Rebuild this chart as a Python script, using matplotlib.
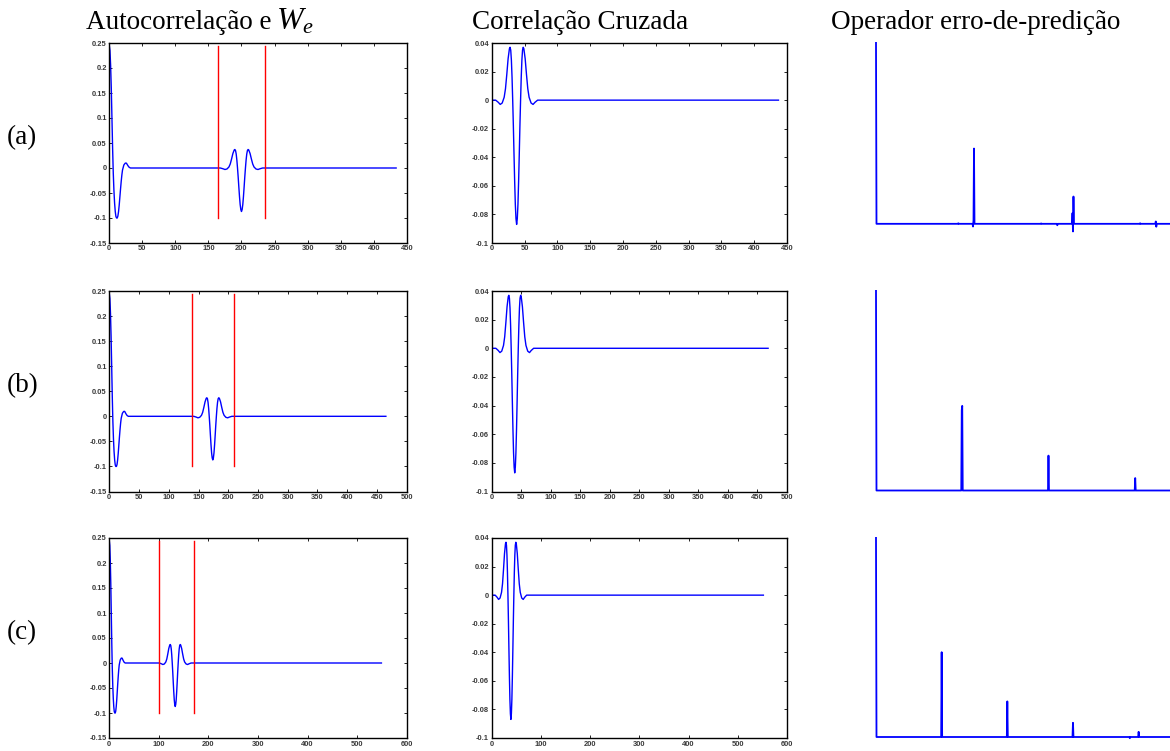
import numpy as np
import matplotlib
matplotlib.use('Agg')
import matplotlib.pyplot as plt

plt.rcParams['mathtext.fontset'] = 'custom'
plt.rcParams['mathtext.rm'] = 'Liberation Serif'
plt.rcParams['mathtext.it'] = 'Liberation Serif:italic'

# ---------- dados ----------
row_labels = ['(a)', '(b)', '(c)']
titles = ['Autocorrelação e ', 'Correlação Cruzada', 'Operador erro-de-predição']

# inicio da autocorrelacao (lag 0..34), igual nas tres linhas
ac_head_lag = [0, 1, 2, 3, 4, 5, 6, 7, 8, 9, 10, 11, 12, 13, 14, 15, 16, 17, 18,
               19, 20, 22, 24, 25, 26, 28, 30, 32, 34]
ac_head_val = [0.245, 0.235, 0.205, 0.160, 0.100, 0.040, -0.010, -0.045, -0.070,
               -0.087, -0.097, -0.100, -0.100, -0.096, -0.087, -0.074, -0.058,
               -0.042, -0.027, -0.014, -0.004, 0.006, 0.0095, 0.010, 0.0095,
               0.005, 0.0015, 0.0, 0.0]

# forma da ondicula (deslocamento em relacao ao vale central, amplitude)
wave_off = [-32, -28, -25, -22, -19, -17, -15, -13, -11, -10, -9, -8, -7, -6, -5,
            -4, -3, -2, -1, 0, 1, 2, 3, 4, 5, 6, 7, 8, 9, 10, 11, 13, 15, 17, 19,
            22, 25, 28, 32]
wave_amp = [0.0, -0.0015, -0.003, -0.002, 0.002, 0.008, 0.018, 0.029, 0.036,
            0.037, 0.035, 0.028, 0.016, 0.0, -0.018, -0.038, -0.057, -0.073,
            -0.083, -0.087, -0.083, -0.073, -0.057, -0.038, -0.018, 0.0, 0.016,
            0.028, 0.035, 0.037, 0.036, 0.029, 0.018, 0.008, 0.002, -0.002,
            -0.003, -0.0015, 0.0]

# autocorrelacao: centro do multiplo, fim da curva, janela W_e (linhas vermelhas)
ac_center = [200, 174, 133]
ac_end = [434, 465, 549]
we_start = [165, 139, 101]
we_stop = [236, 209, 171]
we_low = -0.1
we_high = 0.245

# correlacao cruzada: centro e fim
cc_center = [38, 39, 39]
cc_end = [437, 468, 552]

# eixo x por linha
x_max = [450, 500, 600]
x_ticks = [[0, 50, 100, 150, 200, 250, 300, 350, 400, 450],
           [0, 50, 100, 150, 200, 250, 300, 350, 400, 450, 500],
           [0, 100, 200, 300, 400, 500, 600]]
ac_yticks = [-0.15, -0.1, -0.05, 0, 0.05, 0.1, 0.15, 0.2, 0.25]
ac_ylabels = ['-0.15', '-0.1', '-0.05', '0', '0.05', '0.1', '0.15', '0.2', '0.25']
cc_yticks = [-0.1, -0.08, -0.06, -0.04, -0.02, 0, 0.02, 0.04]
cc_ylabels = ['-0.1', '-0.08', '-0.06', '-0.04', '-0.02', '0', '0.02', '0.04']

# operador erro-de-predicao: lags e valores nao nulos
op_lag = [[0, 168, 198, 199, 200, 337, 370, 401, 402, 403, 539, 571, 572],
          [0, 175, 176, 352, 529],
          [0, 134, 268, 402, 518, 536]]
op_val = [[1.0, 0.003, -0.015, 0.02, 0.414, 0.002, -0.008, 0.059, -0.042, 0.150,
           0.003, 0.013, -0.016],
          [1.0, 0.40, 0.422, 0.174, 0.062],
          [1.0, 0.424, 0.178, 0.071, -0.006, 0.026]]
op_len = 600
op_ymin = [-0.1, 0.0, 0.0]

BLUE = '#0000ff'
RED = '#ff0000'

W, H = 1170, 751
fig = plt.figure(figsize=(W / 100, H / 100), dpi=100)


def px_axes(x0, y0, x1, y1):
    return fig.add_axes([x0 / W, 1 - y1 / H, (x1 - x0) / W, (y1 - y0) / H])


def style_axes(ax, xt, yt, ylab):
    ax.set_xticks(xt)
    ax.set_xticklabels([str(v) for v in xt])
    ax.set_yticks(yt)
    ax.set_yticklabels(ylab)
    ax.tick_params(direction='in', length=2.4, width=0.6, top=True, right=True,
                   labelsize=5.4, labelcolor='#3a3a3a', pad=1.8)
    for lab in ax.get_xticklabels() + ax.get_yticklabels():
        lab.set_family('Liberation Sans')
        lab.set_weight('bold')
    for s in ax.spines.values():
        s.set_linewidth(1.0)


def curve(head_lag, head_val, center, end):
    lags = list(head_lag)
    vals = list(head_val)
    lags += [center + o for o in wave_off]
    vals += wave_amp
    lags.append(end)
    vals.append(0.0)
    return lags, vals


rows_y = [(43, 243), (291, 491.5), (538, 738)]

for i in range(3):
    y0, y1 = rows_y[i]

    # ---------- autocorrelacao ----------
    ax = px_axes(109.3, y0, 406.7, y1)
    lag, val = curve(ac_head_lag, ac_head_val, ac_center[i], ac_end[i])
    ax.plot(lag, val, color=BLUE, lw=1.0)
    ax.plot([we_start[i], we_start[i]], [we_low, we_high], color=RED, lw=1.0)
    ax.plot([we_stop[i], we_stop[i]], [we_low, we_high], color=RED, lw=1.0)
    ax.set_xlim(0, x_max[i])
    ax.set_ylim(-0.15, 0.25)
    style_axes(ax, x_ticks[i], ac_yticks, ac_ylabels)

    # ---------- correlacao cruzada ----------
    ax = px_axes(491.7, y0, 787, y1)
    lag, val = curve([0, 5], [0.0, 0.0], cc_center[i], cc_end[i])
    ax.plot(lag, val, color=BLUE, lw=1.0)
    ax.set_xlim(0, x_max[i])
    ax.set_ylim(-0.1, 0.04)
    style_axes(ax, x_ticks[i], cc_yticks, cc_ylabels)

    # ---------- operador ----------
    ax = px_axes(876, y0 - 1, 1170, y1 - 1)
    px, py = [], []
    for l, v in zip(op_lag[i], op_val[i]):
        if px and px[-1] >= l:
            px.pop(); py.pop()
        elif l > 0:
            px.append(l - 1); py.append(0.0)
        px.append(l); py.append(v)
        px.append(l + 1); py.append(0.0)
    px.append(op_len); py.append(0.0)
    ax.plot(px, py, color=BLUE, lw=1.3, clip_on=False, solid_capstyle='butt')
    ax.set_xlim(0, op_len)
    ax.set_ylim(op_ymin[i], 1.0)
    ax.axis('off')

    fig.text(7 / W, 1 - (rows_y[i][0] + 95) / H, row_labels[i],
             family='Liberation Serif', fontsize=19.5, va='center', ha='left')

# ---------- titulos ----------
fig.text(86 / W, 1 - 29 / H, titles[0], family='Liberation Serif', fontsize=19.5,
         va='baseline', ha='left')
fig.text(276 / W, 1 - 29 / H, r'$W_e$', fontsize=23, va='baseline', ha='left')
fig.text(688 / W, 1 - 29 / H, titles[1], family='Liberation Serif', fontsize=19.5,
         va='baseline', ha='right')
fig.text(831 / W, 1 - 29 / H, titles[2], family='Liberation Serif', fontsize=19.5,
         va='baseline', ha='left')

fig.savefig('out.png', dpi=100)
